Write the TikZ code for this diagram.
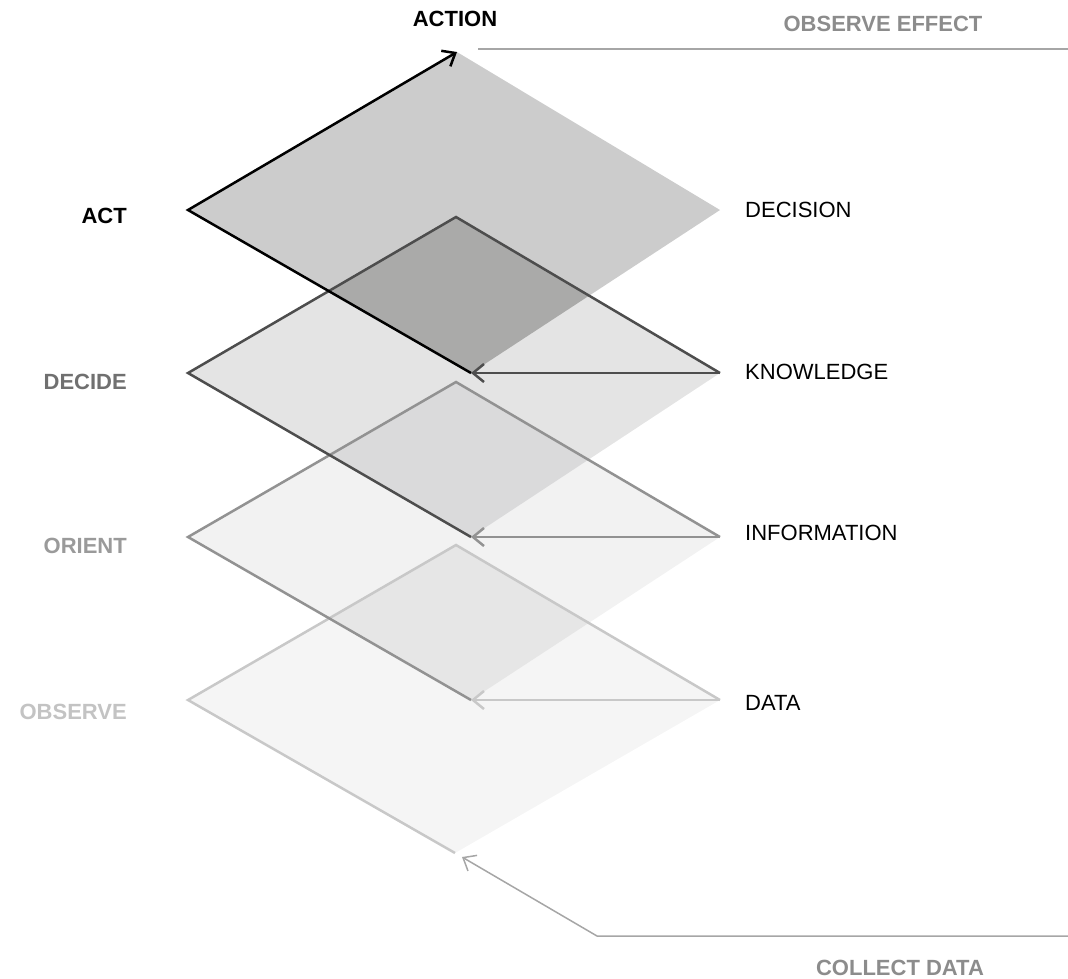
\documentclass[tikz,border=0pt]{standalone}
\usepackage{fontspec}
\setmainfont{Liberation Sans}
\usetikzlibrary{arrows.meta}
\definecolor{fillA}{HTML}{CCCCCC}
\definecolor{fillB}{HTML}{E4E4E4}
\definecolor{fillC}{HTML}{F2F2F2}
\definecolor{fillD}{HTML}{F5F5F5}
\definecolor{ovAB}{HTML}{AAAAA9}
\definecolor{ovBC}{HTML}{DADADB}
\definecolor{ovCD}{HTML}{E6E6E6}
\definecolor{lineA}{HTML}{000000}
\definecolor{lineB}{HTML}{4D4D4D}
\definecolor{lineC}{HTML}{929292}
\definecolor{lineD}{HTML}{C8C8C8}
\definecolor{txtB}{HTML}{707070}
\definecolor{txtC}{HTML}{9A9A9A}
\definecolor{txtD}{HTML}{C3C3C3}
\definecolor{txtG}{HTML}{8C8C8C}
\definecolor{thinG}{HTML}{A6A6A6}
\begin{document}
\begin{tikzpicture}[x=1pt,y=-1pt,
  lbl/.style={font=\fontsize{22}{26}\selectfont, inner sep=0pt},
  blbl/.style={font=\fontsize{22}{26}\selectfont\bfseries, inner sep=0pt},
  edgeline/.style={line width=2.5pt, line join=miter},
  barb/.style={-{Straight Barb[length=11pt,width=18pt]}},
  thinline/.style={line width=1.5pt, color=thinG}]
\useasboundingbox (0,0) rectangle (1068,978);

% vertices
\coordinate (L1) at (188,210); \coordinate (T1) at (457,52);  \coordinate (R1) at (720,210); \coordinate (B1) at (471,373);
\coordinate (L2) at (188,373); \coordinate (T2) at (456,217); \coordinate (R2) at (720,373); \coordinate (B2) at (471,537);
\coordinate (L3) at (188,537); \coordinate (T3) at (456,382); \coordinate (R3) at (720,537); \coordinate (B3) at (471,700);
\coordinate (L4) at (188,700); \coordinate (T4) at (456,545); \coordinate (R4) at (720,700); \coordinate (B4) at (455,853);

% fills
\fill[fillA] (L1)--(T1)--(R1)--(B1)--cycle;
\fill[fillB] (L2)--(T2)--(R2)--(B2)--cycle;
\fill[fillC] (L3)--(T3)--(R3)--(B3)--cycle;
\fill[fillD] (L4)--(T4)--(R4)--(B4)--cycle;
\begin{scope}
  \clip (L1)--(T1)--(R1)--(B1)--cycle;
  \fill[ovAB] (L2)--(T2)--(R2)--(B2)--cycle;
\end{scope}
\begin{scope}
  \clip (L2)--(T2)--(R2)--(B2)--cycle;
  \fill[ovBC] (L3)--(T3)--(R3)--(B3)--cycle;
\end{scope}
\begin{scope}
  \clip (L3)--(T3)--(R3)--(B3)--cycle;
  \fill[ovCD] (L4)--(T4)--(R4)--(B4)--cycle;
\end{scope}

% layer outlines (bottom layer first)
\draw[edgeline, lineD] (B4)--(L4)--(T4)--(R4);
\draw[edgeline, lineD, barb] (R4)--(B3);
\draw[edgeline, lineC] (B3)--(L3)--(T3)--(R3);
\draw[edgeline, lineC, barb] (R3)--(B2);
\draw[edgeline, lineB] (B2)--(L2)--(T2)--(R2);
\draw[edgeline, lineB, barb] (R2)--(B1);
\draw[edgeline, lineA, barb] (B1)--(L1)--(T1);

% outer connectors
\coordinate (oeA) at (478,49);
\coordinate (oeB) at (1068,49);
\draw[thinline] (oeA)--(oeB);
\coordinate (cdA) at (1068,936);
\coordinate (cdB) at (597,936);
\coordinate (cdTip) at (462,857);
\draw[thinline, barb] (cdA)--(cdB)--(cdTip);

% labels
\node[blbl, anchor=base] (action) at (455,26) {ACTION};
\node[blbl, anchor=base, txtG] (obseff) at (883,31) {OBSERVE EFFECT};
\node[blbl, anchor=base, txtG] (coll) at (900,975) {COLLECT DATA};

\node[blbl, anchor=base east] (act) at (127,223) {ACT};
\node[blbl, anchor=base east, txtB] (decide) at (127,389) {DECIDE};
\node[blbl, anchor=base east, txtC] (orient) at (127,553) {ORIENT};
\node[blbl, anchor=base east, txtD] (observe) at (127,719) {OBSERVE};

\node[lbl, anchor=base west] (decision) at (745,217) {DECISION};
\node[lbl, anchor=base west] (knowledge) at (745,379) {KNOWLEDGE};
\node[lbl, anchor=base west] (information) at (745,540) {INFORMATION};
\node[lbl, anchor=base west] (data) at (745,710) {DATA};
\end{tikzpicture}
\end{document}
